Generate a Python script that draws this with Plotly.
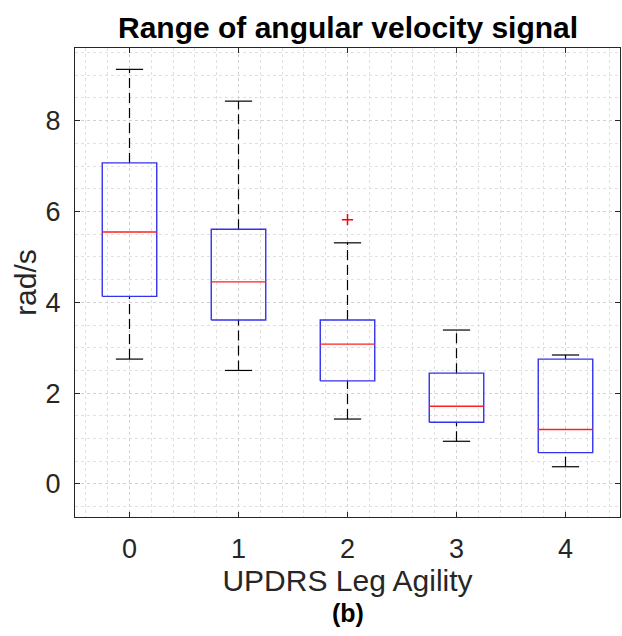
import plotly.graph_objects as go

# Box-plot statistics per UPDRS leg agility score
categories = [0, 1, 2, 3, 4]
upper_whisker = [9.13, 8.43, 5.31, 3.39, 2.84]
q3 = [7.07, 5.61, 3.61, 2.44, 2.75]
median = [5.55, 4.45, 3.08, 1.71, 1.20]
q1 = [4.13, 3.61, 2.27, 1.36, 0.69]
lower_whisker = [2.75, 2.50, 1.43, 0.94, 0.38]
outlier_x = [2]
outlier_y = [5.82]

BOX_HALF = 0.25
CAP_HALF = 0.125
FONT = "Liberation Sans, Arial, sans-serif"

box_x, box_y = [], []
med_x, med_y = [], []
wh_x, wh_y = [], []
cap_x, cap_y = [], []
for c, lo, a, m, b, hi in zip(categories, lower_whisker, q1, median, q3, upper_whisker):
    box_x += [c - BOX_HALF, c + BOX_HALF, c + BOX_HALF, c - BOX_HALF, c - BOX_HALF, None]
    box_y += [a, a, b, b, a, None]
    med_x += [c - BOX_HALF, c + BOX_HALF, None]
    med_y += [m, m, None]
    wh_x += [c, c, None, c, c, None]
    wh_y += [b, hi, None, lo, a, None]
    cap_x += [c - CAP_HALF, c + CAP_HALF, None, c - CAP_HALF, c + CAP_HALF, None]
    cap_y += [hi, hi, None, lo, lo, None]

fig = go.Figure()
fig.add_trace(go.Scatter(x=wh_x, y=wh_y, mode="lines",
                         line=dict(color="#000000", width=1.2, dash="10px,5px")))
fig.add_trace(go.Scatter(x=cap_x, y=cap_y, mode="lines",
                         line=dict(color="#000000", width=1.2)))
fig.add_trace(go.Scatter(x=box_x, y=box_y, mode="lines",
                         line=dict(color="#3333ee", width=1.4)))
fig.add_trace(go.Scatter(x=med_x, y=med_y, mode="lines",
                         line=dict(color="#ff2020", width=1.4)))
fig.add_trace(go.Scatter(x=outlier_x, y=outlier_y, mode="markers",
                         marker=dict(symbol="cross-thin-open", size=8, color="#ff0000",
                                     line=dict(color="#ff0000", width=1.5))))

axis_common = dict(
    showline=True, linecolor="#262626", linewidth=1, mirror="ticks",
    ticks="inside", ticklen=5, tickcolor="#262626",
    showgrid=True, gridcolor="#d2d2d2", griddash="dot", gridwidth=1,
    zeroline=False,
    tickfont=dict(family=FONT, size=27, color="#262626"),
)

fig.update_xaxes(
    range=[-0.5, 4.5], tickvals=categories, ticktext=[str(c) for c in categories],
    ticklabelstandoff=8,
    minor=dict(dtick=0.2, tick0=0, showgrid=True, gridcolor="#e0e0e0", griddash="dot", ticks=""),
    title=dict(text="UPDRS Leg Agility", standoff=4,
               font=dict(family=FONT, size=30, color="#262626")),
    **axis_common,
)
fig.update_yaxes(
    range=[-0.727, 9.6], tickvals=[0, 2, 4, 6, 8],
    ticklabelstandoff=8,
    minor=dict(dtick=0.5, tick0=0, showgrid=True, gridcolor="#e0e0e0", griddash="dot", ticks=""),
    title=dict(text="rad/s", standoff=0,
               font=dict(family=FONT, size=30, color="#262626")),
    **axis_common,
)

fig.update_layout(
    width=622, height=636,
    margin=dict(l=75, r=2, t=48, b=119),
    plot_bgcolor="#ffffff", paper_bgcolor="#ffffff",
    showlegend=False,
    annotations=[
        dict(text="<b>Range of angular velocity signal</b>", xref="paper", yref="paper",
             x=0.5, y=1, yanchor="bottom", yshift=2, showarrow=False,
             font=dict(family=FONT, size=30, color="#000000")),
        dict(text="<b>(b)</b>", xref="paper", yref="paper",
             x=0.5, y=0, yanchor="middle", yshift=-96, showarrow=False,
             font=dict(family=FONT, size=25, color="#000000")),
    ],
)

fig.write_html("out.html")
